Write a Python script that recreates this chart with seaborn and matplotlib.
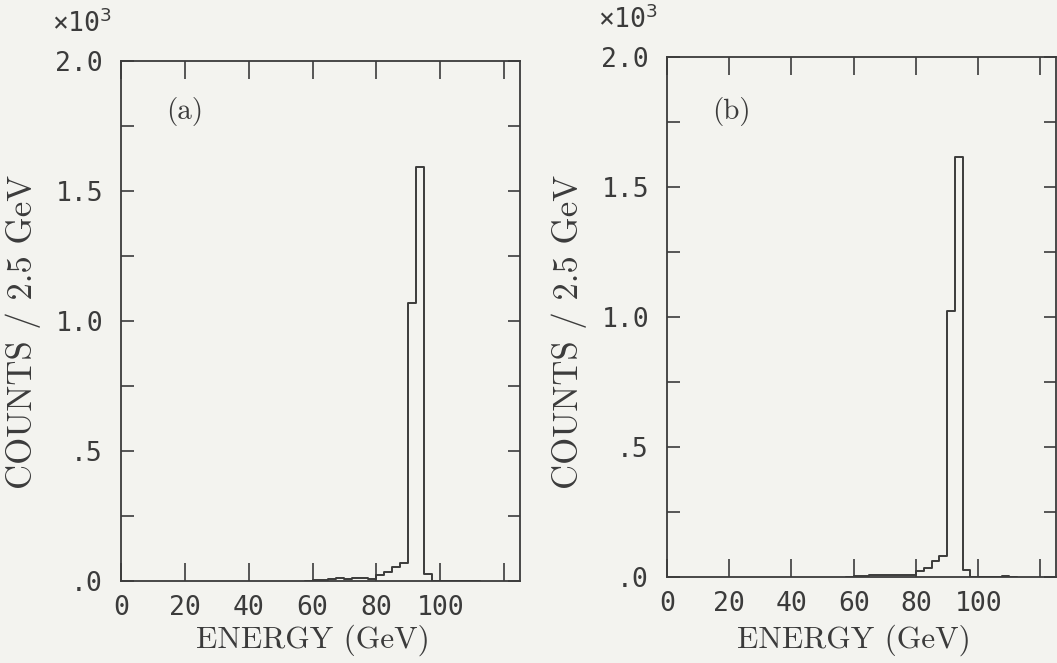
import numpy as np
import pandas as pd
import matplotlib
matplotlib.use("Agg")
import matplotlib.pyplot as plt
import seaborn as sns
from matplotlib.ticker import MultipleLocator, FixedLocator, FixedFormatter, FuncFormatter

# Energy bins (GeV, 2.5 GeV wide) and counts per bin for the two weighting schemes
bin_centers = [58.75, 61.25, 63.75, 66.25, 68.75, 71.25, 73.75, 76.25, 78.75,
               81.25, 83.75, 86.25, 88.75, 91.25, 93.75, 96.25, 98.75, 101.25,
               103.75, 106.25, 108.75, 111.25]
counts_a = [0, 3, 5, 6, 12, 6, 11, 11, 6,
            23, 36, 55, 71, 1068, 1594, 26, 0, 0,
            0, 0, 0, 0]
counts_b = [0, 3, 4, 8, 9, 9, 8, 9, 7,
            22, 34, 60, 79, 1025, 1617, 27, 0, 0,
            0, 0, 4, 0]

x_ticks = [0, 20, 40, 60, 80, 100, 120]
x_tick_labels = ["0", "20", "40", "60", "80", "100", ""]
panel_tags = ["(a)", "(b)"]
x_label = "ENERGY (GeV)"
y_label = "COUNTS / 2.5 GeV"
scale_label = "×10$^3$"

paper = "#f3f3ef"
ink = "#3b3b3b"

sns.set_theme(style="white")
plt.rcParams["font.family"] = ["DejaVu Sans Mono", "DejaVu Sans"]
plt.rcParams["mathtext.fontset"] = "dejavusans"

W, H = 1057, 663
fig = plt.figure(figsize=(W / 100, H / 100), dpi=100, facecolor=paper)

# axes boxes in pixels: left, right, top, bottom
boxes = [(121, 520, 61, 581), (667, 1056, 57, 577)]
series = [counts_a, counts_b]

serif = "cmr10"


def yfmt(v, pos):
    s = f"{v / 1000:.1f}"
    return s[1:] if s.startswith("0") else s


for (l, r, t, b), counts, tag in zip(boxes, series, panel_tags):
    ax = fig.add_axes([l / W, 1 - b / H, (r - l) / W, (b - t) / H])
    ax.set_facecolor(paper)
    df = pd.DataFrame({"energy": bin_centers, "counts": counts})
    sns.histplot(data=df, x="energy", weights="counts", binwidth=2.5,
                 binrange=(57.5, 112.5), element="step", fill=False,
                 color=ink, linewidth=1.4, ax=ax)
    ax.set_xlim(0, 125)
    ax.set_ylim(0, 2000)
    ax.set_xlabel("")
    ax.set_ylabel("")

    ax.xaxis.set_major_locator(FixedLocator(x_ticks))
    ax.xaxis.set_major_formatter(FixedFormatter(x_tick_labels))
    ax.yaxis.set_major_locator(MultipleLocator(500))
    ax.yaxis.set_minor_locator(MultipleLocator(250))
    ax.yaxis.set_major_formatter(FuncFormatter(yfmt))

    ax.tick_params(axis="x", which="both", direction="in", top=True, bottom=True,
                   length=13, width=1.2, color=ink, labelcolor=ink,
                   labelsize=19, pad=10)
    ax.tick_params(axis="y", which="both", direction="in", left=True, right=True,
                   length=9, width=1.2, color=ink, labelcolor=ink,
                   labelsize=19, pad=13)
    for sp in ax.spines.values():
        sp.set_color(ink)
        sp.set_linewidth(1.3)
        sp.set_visible(True)

    # panel tag inside the frame
    fig.text((l + 64) / W, 1 - 112 / H, tag, ha="center", va="center",
             fontsize=21, family=serif, color=ink)

    # scale factor of the count axis
    fig.text((l - 69) / W, 1 - (t - 37) / H, scale_label, ha="left", va="center",
             fontsize=19, color=ink, family=["DejaVu Sans Mono", "DejaVu Sans"])

    # axis titles
    fig.text(((l + r) / 2 - 8) / W, 1 - 640 / H, x_label, ha="center",
             va="center", fontsize=22.5, family=serif, color=ink)
    fig.text((l - 98) / W, 1 - 332 / H, y_label, ha="center", va="center",
             rotation=90, fontsize=25, family=serif, color=ink)

fig.savefig("out.png", dpi=100, facecolor=paper)
